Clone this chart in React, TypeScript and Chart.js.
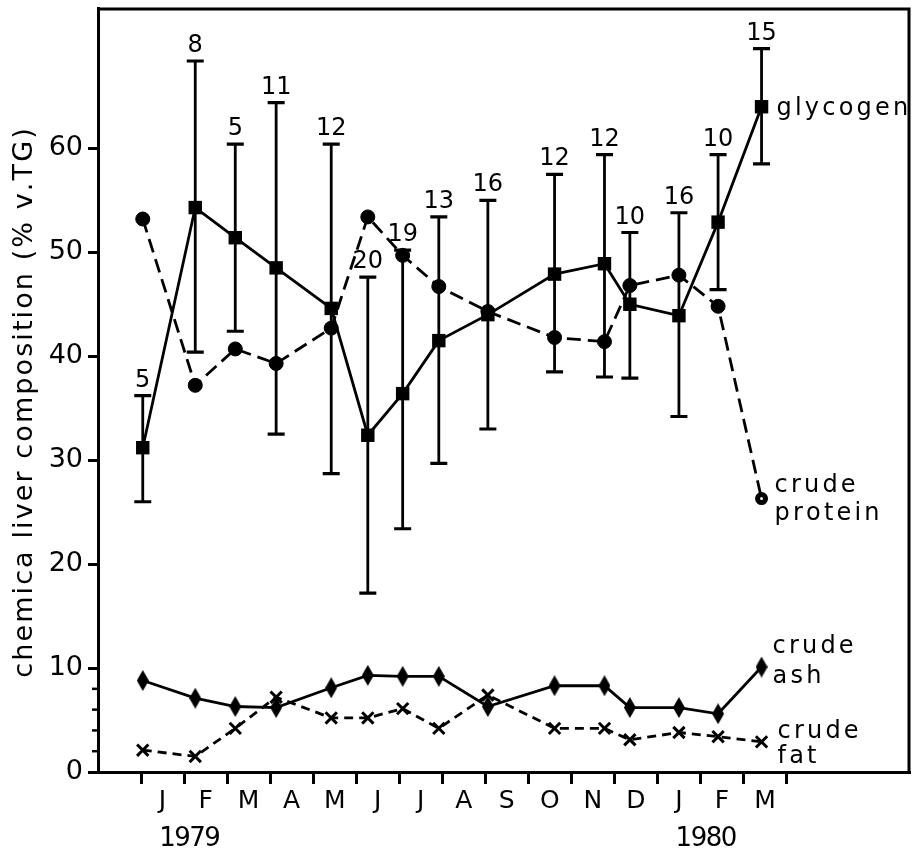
import React, { useEffect, useRef } from "react";
import { Chart, registerables } from "chart.js";

Chart.register(...registerables);

// ---- data ----
const months = ["J", "F", "M", "A", "M", "J", "J", "A", "S", "O", "N", "D", "J", "F", "M"];
const years = ["1979", "1980"];
const yearAtMonth = [1, 13];
const sampleMonth = [0.04, 1.26, 2.19, 3.14, 4.42, 5.27, 6.08, 6.92, 8.06, 9.61, 10.77, 11.36, 12.5, 13.41, 14.42];
const glycogen = [31.2, 54.3, 51.4, 48.5, 44.6, 32.4, 36.4, 41.5, 44.0, 47.9, 48.9, 45.0, 43.9, 52.9, 64.0];
const glycogenHigh = [36.2, 68.4, 60.4, 64.4, 60.4, 47.6, 50.2, 53.4, 55.0, 57.5, 59.4, 51.9, 53.8, 59.4, 69.6];
const glycogenLow = [26.0, 40.4, 42.4, 32.5, 28.7, 17.2, 23.4, 29.7, 33.0, 38.5, 38.0, 37.9, 34.2, 46.4, 58.5];
const sampleSize = [5, 8, 5, 11, 12, 20, 19, 13, 16, 12, 12, 10, 16, 10, 15];
const crudeProtein = [53.2, 37.2, 40.7, 39.3, 42.7, 53.4, 49.7, 46.7, 44.3, 41.8, 41.4, 46.8, 47.8, 44.8, 26.3];
const crudeAsh = [8.8, 7.1, 6.3, 6.2, 8.1, 9.3, 9.2, 9.2, 6.3, 8.3, 8.3, 6.2, 6.2, 5.6, 10.1];
const crudeFat = [2.1, 1.5, 4.2, 7.2, 5.2, 5.2, 6.1, 4.2, 7.4, 4.2, 4.2, 3.1, 3.8, 3.4, 2.9];
const yTicks = [0, 10, 20, 30, 40, 50, 60];
const yMinorTicks = [2, 4, 6, 8];
const yTitle = "chemica liver composition (% v.TG)";
const seriesLabels = [
  { lines: ["glycogen"], values: glycogen },
  { lines: ["crude", "protein"], values: crudeProtein },
  { lines: ["crude", "ash"], values: crudeAsh },
  { lines: ["crude", "fat"], values: crudeFat },
];

const FONT = "'DejaVu Sans', sans-serif";

function makeDiamond(w: number, h: number) {
  const c = document.createElement("canvas");
  c.width = w;
  c.height = h;
  const g = c.getContext("2d")!;
  g.beginPath();
  g.moveTo(w / 2, 0);
  g.lineTo(w, h / 2);
  g.lineTo(w / 2, h);
  g.lineTo(0, h / 2);
  g.closePath();
  g.fillStyle = "#000";
  g.fill();
  return c;
}

// draw text with manual letter spacing
function spacedText(ctx: CanvasRenderingContext2D, text: string, x: number, y: number, spacing: number, align: "left" | "center") {
  const chars = Array.from(text);
  const widths = chars.map((ch) => ctx.measureText(ch).width);
  const total = widths.reduce((a, b) => a + b, 0) + spacing * (chars.length - 1);
  let cx = align === "center" ? x - total / 2 : x;
  ctx.textAlign = "left";
  chars.forEach((ch, i) => {
    ctx.fillText(ch, cx, y);
    cx += widths[i] + spacing;
  });
  return total;
}

const toPoints = (vals: number[]) => vals.map((v, i) => ({ x: sampleMonth[i], y: v }));

const decorPlugin = {
  id: "decor",
  beforeDatasetsDraw(chart: any) {
    const { ctx, scales } = chart;
    const x = scales.x;
    const y = scales.y;
    ctx.save();
    ctx.strokeStyle = "#000";
    ctx.fillStyle = "#000";
    ctx.font = `24px ${FONT}`;
    ctx.textBaseline = "alphabetic";
    sampleMonth.forEach((m, i) => {
      const px = x.getPixelForValue(m);
      const top = y.getPixelForValue(glycogenHigh[i]);
      const bot = y.getPixelForValue(glycogenLow[i]);
      ctx.lineWidth = 2.8;
      ctx.beginPath();
      ctx.moveTo(px, top);
      ctx.lineTo(px, bot);
      ctx.stroke();
      ctx.lineWidth = 3.2;
      ctx.beginPath();
      ctx.moveTo(px - 8.5, top);
      ctx.lineTo(px + 8.5, top);
      ctx.moveTo(px - 8.5, bot);
      ctx.lineTo(px + 8.5, bot);
      ctx.stroke();
      ctx.textAlign = "center";
      ctx.fillText(String(sampleSize[i]), px, top - 9);
    });
    ctx.restore();
  },
  afterDraw(chart: any) {
    const { ctx, chartArea, scales } = chart;
    const x = scales.x;
    const y = scales.y;
    ctx.save();
    ctx.strokeStyle = "#000";
    ctx.fillStyle = "#000";
    // frame top and right
    ctx.lineWidth = 3;
    ctx.beginPath();
    ctx.moveTo(chartArea.left, chartArea.top + 1);
    ctx.lineTo(chartArea.right - 1, chartArea.top + 1);
    ctx.lineTo(chartArea.right - 1, chartArea.bottom);
    ctx.stroke();
    // minor y ticks
    ctx.lineWidth = 2.5;
    yMinorTicks.forEach((v) => {
      const py = y.getPixelForValue(v);
      ctx.beginPath();
      ctx.moveTo(chartArea.left - 6, py);
      ctx.lineTo(chartArea.left, py);
      ctx.stroke();
    });
    // year labels
    ctx.font = `26px ${FONT}`;
    ctx.textBaseline = "middle";
    years.forEach((t, i) => {
      spacedText(ctx, t, x.getPixelForValue(yearAtMonth[i]) + 6, 839, -1.5, "center");
    });
    // series labels beside the last points
    ctx.font = `24px ${FONT}`;
    ctx.textBaseline = "alphabetic";
    const last = sampleMonth.length - 1;
    const lx = x.getPixelForValue(sampleMonth[last]);
    const offsets = [
      { dx: 15, dy: [8] },
      { dx: 13, dy: [-7, 21] },
      { dx: 11, dy: [-14, 16] },
      { dx: 16, dy: [-4, 21] },
    ];
    seriesLabels.forEach((s, k) => {
      const py = y.getPixelForValue(s.values[last]);
      s.lines.forEach((line, j) => {
        spacedText(ctx, line, lx + offsets[k].dx, py + offsets[k].dy[j], 3.2, "left");
      });
    });
    // rotated y title
    ctx.font = `27px ${FONT}`;
    ctx.translate(32, 403);
    ctx.rotate(-Math.PI / 2);
    spacedText(ctx, yTitle, 0, 0, 2.1, "center");
    ctx.restore();
  },
};

export default function App() {
  const ref = useRef<HTMLCanvasElement>(null);
  useEffect(() => {
    const canvas = ref.current!;
    const diamond = makeDiamond(12, 21);
    const lastIdx = crudeProtein.length - 1;
    const chart = new Chart(canvas, {
      type: "line",
      data: {
        datasets: [
          { label: "glycogen", data: toPoints(glycogen), borderColor: "#000", backgroundColor: "#000", borderWidth: 2.8, pointStyle: "rect", pointRadius: 9.5, pointBorderWidth: 0, tension: 0 },
          {
            label: "crude protein", data: toPoints(crudeProtein), borderColor: "#000", backgroundColor: "#000", borderWidth: 2.8, borderDash: [14, 7], pointStyle: "circle",
            pointRadius: crudeProtein.map((_, i) => (i === lastIdx ? 4 : 7)),
            pointBorderWidth: crudeProtein.map((_, i) => (i === lastIdx ? 5 : 1)),
            pointBackgroundColor: crudeProtein.map((_, i) => (i === lastIdx ? "#fff" : "#000")),
            tension: 0,
          },
          { label: "crude ash", data: toPoints(crudeAsh), borderColor: "#000", backgroundColor: "#000", borderWidth: 2.8, pointStyle: diamond as any, pointRadius: 6, tension: 0 },
          { label: "crude fat", data: toPoints(crudeFat), borderColor: "#000", backgroundColor: "#000", borderWidth: 2.8, borderDash: [9, 6], pointStyle: "crossRot", pointRadius: 8, pointBorderWidth: 3, tension: 0 },
        ],
      },
      options: {
        responsive: false,
        devicePixelRatio: 1,
        animation: false,
        events: [],
        layout: { autoPadding: false, padding: { top: 8, right: 5, left: 0, bottom: 0 } },
        plugins: { legend: { display: false }, tooltip: { enabled: false } },
        scales: {
          x: {
            type: "linear", position: "bottom", min: -1, max: 17.87,
            border: { display: true, color: "#000", width: 3 },
            grid: {
              drawOnChartArea: false, drawTicks: true, tickLength: 12, tickWidth: 3,
              tickColor: (c: any) => (c.tick && Number.isInteger(c.tick.value) ? "#000" : "rgba(0,0,0,0)"),
            },
            ticks: {
              autoSkip: false, maxRotation: 0, minRotation: 0, padding: 2, color: "#000",
              font: { family: FONT, size: 25 },
              callback: (v: any) => {
                const n = Number(v);
                if (Number.isInteger(n)) return "";
                return months[Math.floor(n)] ?? "";
              },
            },
            afterBuildTicks: (scale: any) => {
              const t: { value: number }[] = [];
              for (let k = 0; k <= months.length * 2; k++) t.push({ value: k / 2 });
              scale.ticks = t;
            },
            afterFit: (scale: any) => { scale.height = 83; scale.paddingLeft = 0; scale.paddingRight = 0; },
          },
          y: {
            type: "linear", position: "left", min: 0, max: 73.5,
            border: { display: true, color: "#000", width: 3 },
            grid: { drawOnChartArea: false, drawTicks: true, tickLength: 10, tickWidth: 3, tickColor: "#000" },
            ticks: { padding: 5, color: "#000", font: { family: FONT, size: 27 }, callback: (v: any) => String(v) },
            afterBuildTicks: (scale: any) => { scale.ticks = yTicks.map((v) => ({ value: v })); },
            afterFit: (scale: any) => { scale.width = 98; scale.paddingTop = 0; scale.paddingBottom = 0; },
          },
        },
      },
      plugins: [decorPlugin],
    });
    return () => chart.destroy();
  }, []);
  return (
    <div style={{ position: "absolute", left: 0, top: 0, width: 915, height: 855, background: "#fff" }}>
      <canvas ref={ref} width={915} height={855} style={{ display: "block", width: 915, height: 855 }} />
    </div>
  );
}
